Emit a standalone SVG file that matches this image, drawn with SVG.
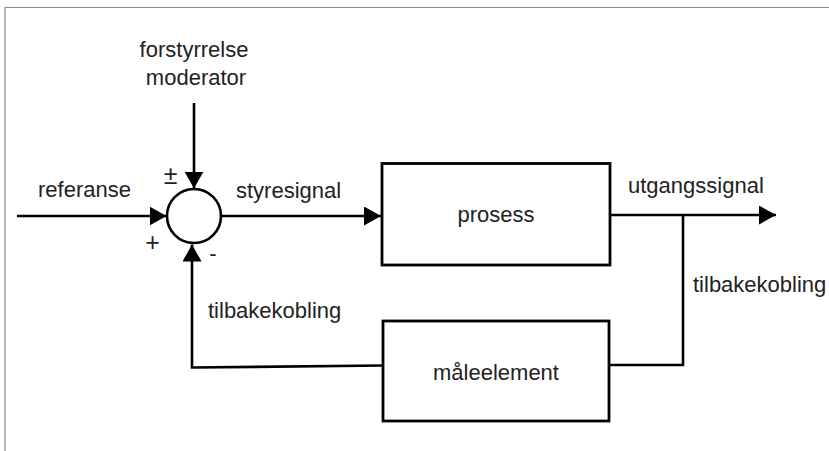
<svg xmlns="http://www.w3.org/2000/svg" width="829" height="451" viewBox="0 0 829 451">
<style>
.t{font-family:"Liberation Sans",Arial,sans-serif;font-size:22px;fill:#222}
.s{font-size:25px}
.c{text-anchor:middle}
.box{fill:#fff;stroke:#000;stroke-width:2.8}
.ln{fill:none;stroke:#000;stroke-width:2.6}
</style>
<defs>
<marker id="ah" markerUnits="userSpaceOnUse" markerWidth="17" markerHeight="19" refX="17" refY="9.5" orient="auto">
<path d="M0,0 L17,9.5 L0,19 z" fill="#000"/>
</marker>
</defs>
<rect width="829" height="451" fill="#fff"/>
<path d="M5,451 V7.5 H829" fill="none" stroke="#888" stroke-width="1.2"/>
<g id="connectors">
<line class="ln" x1="17" y1="216" x2="166.5" y2="216" marker-end="url(#ah)"/>
<line class="ln" x1="194" y1="103" x2="194" y2="188.5" marker-end="url(#ah)"/>
<polyline class="ln" points="383,365.5 192,367.5 192,244.5" marker-end="url(#ah)"/>
<line class="ln" x1="221.5" y1="216" x2="381" y2="216" marker-end="url(#ah)"/>
<line class="ln" x1="610" y1="215" x2="776" y2="215" marker-end="url(#ah)"/>
<polyline class="ln" points="683,215 683,365 609,365"/>
</g>
<g id="sum">
<circle cx="194" cy="216" r="27" fill="#fff" stroke="#000" stroke-width="2.6"/>
<text class="t s c" x="170.5" y="184">±</text>
<text class="t s c" x="152.5" y="251">+</text>
<text class="t c" x="213" y="261">-</text>
</g>
<g id="prosess">
<rect class="box" x="382" y="163.5" width="228" height="101.5"/>
<text class="t c" x="496" y="222">prosess</text>
</g>
<g id="maaleelement">
<rect class="box" x="383" y="321" width="226" height="100"/>
<text class="t c" x="496" y="380">måleelement</text>
</g>
<g id="labels">
<text class="t c" x="194" y="57">forstyrrelse</text>
<text class="t c" x="196" y="85">moderator</text>
<text class="t" x="38" y="197">referanse</text>
<text class="t" x="236" y="198">styresignal</text>
<text class="t" x="628" y="193">utgangssignal</text>
<text class="t" x="693" y="292">tilbakekobling</text>
<text class="t" x="208" y="318">tilbakekobling</text>
</g>
</svg>
